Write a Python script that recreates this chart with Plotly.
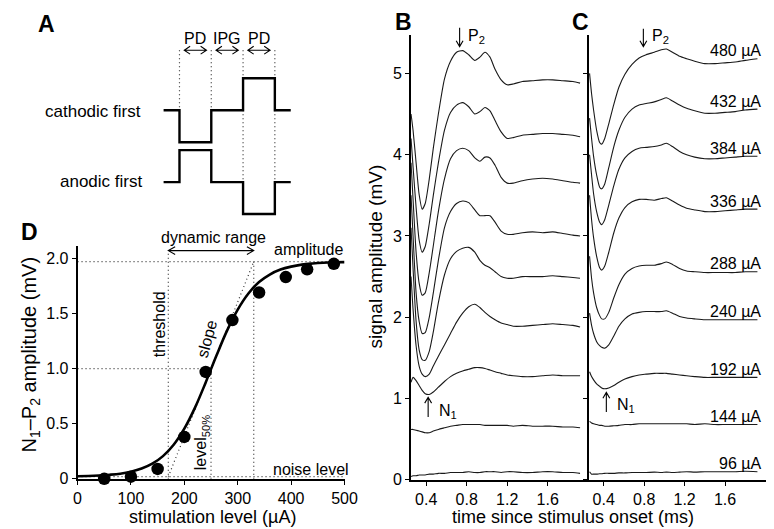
import math
import plotly.graph_objects as go

W, H = 774, 529
FONT = "Liberation Sans, Arial, Helvetica, sans-serif"

# ---------------- Panel D data ----------------
stim_level = [50, 100, 150, 200, 240, 290, 340, 390, 430, 480]
n1p2_amplitude = [0.0, 0.02, 0.09, 0.38, 0.97, 1.44, 1.69, 1.83, 1.90, 1.95]
fit_level = [0, 20, 40, 60, 80, 100, 120, 140, 160, 180, 200, 220, 240, 260,
             280, 300, 320, 340, 360, 380, 400, 420, 440, 460, 480, 500]
fit_amplitude = [0.024, 0.026, 0.030, 0.037, 0.047, 0.065, 0.093, 0.137, 0.206,
                 0.309, 0.455, 0.646, 0.874, 1.116, 1.344, 1.535, 1.681, 1.785,
                 1.853, 1.898, 1.925, 1.943, 1.953, 1.960, 1.964, 1.966]
threshold_level = 170
level_50 = 250
upper_level = 330
noise_level = 0.02
max_amplitude = 1.97
half_amplitude = 1.0
d_xticks = [0, 100, 200, 300, 400, 500]
d_yticks = [0, 0.5, 1.0, 1.5, 2.0]
d_yticklabels = ["0", "0.5", "1.0", "1.5", "2.0"]

# ---------------- Panel A data ----------------
pulse_time = [-0.5, 0, 0, 1, 1, 2, 2, 3, 3, 3.5]
cathodic_first = [0, 0, -1, -1, 0, 0, 1, 1, 0, 0]
anodic_first = [0, 0, 1, 1, 0, 0, -1, -1, 0, 0]
phase_edges = [0, 1, 2, 3]
phase_names = ["PD", "IPG", "PD"]

# ---------------- Panels B / C data ----------------
stim_labels = [96, 144, 192, 240, 288, 336, 384, 432, 480]
time_b = [0.25, 0.27, 0.30, 0.33, 0.36, 0.39, 0.43, 0.47, 0.52, 0.58, 0.64, 0.70,
          0.76, 0.82, 0.88, 0.93, 0.98, 1.03, 1.08, 1.14, 1.20, 1.26, 1.35, 1.45,
          1.55, 1.65, 1.75, 1.85, 1.92]
b_480 = [4.5, 4.3, 3.9, 3.51, 3.33, 3.4, 3.7, 4.08, 4.5, 4.93, 5.15, 5.26, 5.28, 5.23,
         5.16, 5.2, 5.26, 5.2, 5.05, 4.92, 4.86, 4.87, 4.9, 4.91, 4.92, 4.92, 4.91, 4.9, 4.88]
b_432 = [4.2, 3.85, 3.35, 2.95, 2.8, 2.87, 3.15, 3.5, 3.9, 4.3, 4.52, 4.61, 4.64, 4.59,
         4.5, 4.53, 4.58, 4.54, 4.42, 4.28, 4.2, 4.21, 4.24, 4.25, 4.26, 4.26, 4.25, 4.24, 4.22]
b_384 = [3.9, 3.45, 2.8, 2.42, 2.27, 2.3, 2.55, 2.88, 3.3, 3.7, 3.95, 4.05, 4.08, 4.05,
         3.96, 3.92, 3.97, 3.96, 3.87, 3.72, 3.65, 3.65, 3.68, 3.7, 3.71, 3.7, 3.68, 3.66, 3.65]
b_336 = [3.5, 3.0, 2.3, 1.95, 1.8, 1.81, 2.0, 2.3, 2.7, 3.1, 3.3, 3.4, 3.43, 3.41,
         3.32, 3.25, 3.25, 3.25, 3.17, 3.06, 3.02, 3.02, 3.04, 3.05, 3.04, 3.05, 3.03, 3.01, 3.0]
b_288 = [3.1, 2.6, 1.95, 1.6, 1.48, 1.47, 1.58, 1.82, 2.18, 2.52, 2.72, 2.81, 2.85, 2.86,
         2.8, 2.7, 2.64, 2.61, 2.56, 2.5, 2.48, 2.48, 2.5, 2.5, 2.5, 2.51, 2.5, 2.49, 2.48]
b_240 = [2.5, 2.1, 1.65, 1.4, 1.3, 1.27, 1.3, 1.4, 1.52, 1.66, 1.8, 1.94, 2.05, 2.13,
         2.16, 2.12, 2.06, 2.01, 1.97, 1.93, 1.91, 1.89, 1.89, 1.9, 1.91, 1.92, 1.91, 1.9, 1.88]
b_192 = [1.2, 1.26, 1.22, 1.16, 1.1, 1.06, 1.05, 1.08, 1.14, 1.21, 1.27, 1.31, 1.34, 1.36,
         1.38, 1.38, 1.37, 1.35, 1.33, 1.31, 1.29, 1.28, 1.27, 1.27, 1.28, 1.29, 1.28, 1.28, 1.28]
b_144 = [0.62, 0.62, 0.61, 0.6, 0.59, 0.58, 0.58, 0.6, 0.62, 0.64, 0.66, 0.67, 0.68, 0.68,
         0.68, 0.68, 0.67, 0.67, 0.67, 0.67, 0.67, 0.66, 0.67, 0.66, 0.66, 0.66, 0.65, 0.65, 0.64]
b_096 = [0.04, 0.05, 0.05, 0.06, 0.06, 0.06, 0.07, 0.07, 0.08, 0.08, 0.09, 0.09, 0.09, 0.1,
         0.09, 0.09, 0.1, 0.1, 0.1, 0.09, 0.1, 0.1, 0.09, 0.09, 0.1, 0.1, 0.09, 0.09, 0.08]

time_c = [0.26, 0.28, 0.30, 0.33, 0.36, 0.38, 0.41, 0.45, 0.50, 0.55, 0.61, 0.68, 0.75,
          0.82, 0.90, 0.97, 1.02, 1.08, 1.15, 1.22, 1.30, 1.40, 1.50, 1.60, 1.70, 1.80, 1.92]
c_480 = [5.0, 4.75, 4.55, 4.3, 4.15, 4.13, 4.2, 4.38, 4.62, 4.83, 4.99, 5.11, 5.19, 5.23,
         5.26, 5.29, 5.3, 5.26, 5.21, 5.18, 5.15, 5.12, 5.12, 5.13, 5.14, 5.16, 5.18]
c_432 = [4.45, 4.2, 3.98, 3.75, 3.6, 3.58, 3.64, 3.84, 4.1, 4.3, 4.46, 4.56, 4.61, 4.63,
         4.65, 4.68, 4.7, 4.66, 4.61, 4.57, 4.54, 4.51, 4.51, 4.52, 4.53, 4.55, 4.56]
c_384 = [4.0, 3.75, 3.52, 3.3, 3.17, 3.14, 3.2, 3.38, 3.62, 3.82, 3.96, 4.04, 4.08, 4.09,
         4.1, 4.12, 4.14, 4.1, 4.04, 4.0, 3.97, 3.95, 3.95, 3.96, 3.97, 3.98, 3.98]
c_336 = [3.5, 3.2, 2.98, 2.75, 2.61, 2.58, 2.63, 2.8, 3.04, 3.22, 3.35, 3.42, 3.45, 3.45,
         3.44, 3.46, 3.47, 3.43, 3.38, 3.34, 3.32, 3.3, 3.3, 3.31, 3.32, 3.33, 3.33]
c_288 = [2.75, 2.48, 2.3, 2.12, 2.02, 1.98, 1.98, 2.06, 2.24, 2.4, 2.53, 2.6, 2.63, 2.64,
         2.64, 2.66, 2.68, 2.65, 2.6, 2.57, 2.56, 2.55, 2.55, 2.55, 2.55, 2.56, 2.56]
c_240 = [2.05, 1.9, 1.8, 1.7, 1.65, 1.63, 1.62, 1.66, 1.77, 1.89, 1.98, 2.04, 2.06, 2.07,
         2.07, 2.07, 2.08, 2.05, 2.01, 1.99, 1.98, 1.97, 1.97, 1.97, 1.97, 1.97, 1.97]
c_192 = [1.33, 1.27, 1.23, 1.18, 1.15, 1.13, 1.12, 1.13, 1.16, 1.2, 1.24, 1.27, 1.29, 1.3,
         1.31, 1.31, 1.31, 1.3, 1.29, 1.28, 1.27, 1.26, 1.26, 1.26, 1.26, 1.26, 1.26]
c_144 = [0.72, 0.7, 0.69, 0.68, 0.67, 0.67, 0.66, 0.66, 0.665, 0.67, 0.68, 0.68, 0.69, 0.69,
         0.69, 0.69, 0.69, 0.69, 0.69, 0.69, 0.68, 0.69, 0.68, 0.68, 0.68, 0.68, 0.68]
c_096 = [0.1, 0.07, 0.07, 0.07, 0.075, 0.075, 0.08, 0.08, 0.08, 0.085, 0.085, 0.09, 0.09, 0.09,
         0.095, 0.09, 0.095, 0.09, 0.095, 0.1, 0.095, 0.1, 0.1, 0.1, 0.1, 0.105, 0.1]

bc_xticks = [0.4, 0.8, 1.2, 1.6]
bc_xticklabels = ["0.4", "0.8", "1.2", "1.6"]
bc_yticks = [0, 1, 2, 3, 4, 5]

b_traces = [b_096, b_144, b_192, b_240, b_288, b_336, b_384, b_432, b_480]
c_traces = [c_096, c_144, c_192, c_240, c_288, c_336, c_384, c_432, c_480]

# ---------------- layout geometry (pixels) ----------------
PANELS = {
    "D": dict(xd=(67, 340), xr=(0, 500), yd=(479, 242), yr=(0, 2.113)),
    "B": dict(xd=(408, 589), xr=(0.25, 1.999), yd=(480, 27), yr=(0, 5.478)),
    "C": dict(xd=(590, 772), xr=(0.255, 2.015), yd=(480, 27), yr=(0, 5.478)),
    "A": dict(xd=(140, 300), xr=(-0.9615, 3.9615), yd=(215, 25), yr=(-3.415, 2.431)),
}


def xdom(p):
    a, b = PANELS[p]["xd"]
    return [a / W, b / W]


def ydom(p):
    a, b = PANELS[p]["yd"]
    return [1 - a / H, 1 - b / H]


def to_px(p, x, y):
    P = PANELS[p]
    X = P["xd"][0] + (x - P["xr"][0]) / (P["xr"][1] - P["xr"][0]) * (P["xd"][1] - P["xd"][0])
    Y = P["yd"][0] + (y - P["yr"][0]) / (P["yr"][1] - P["yr"][0]) * (P["yd"][1] - P["yd"][0])
    return X, Y


def pp(X, Y):
    return f"{X / W:.5f},{1 - Y / H:.5f}"


def arrow_path(p, x0, y0, x1, y1, both=False, hl=6.0, hw=3.5):
    X0, Y0 = to_px(p, x0, y0)
    X1, Y1 = to_px(p, x1, y1)
    dx, dy = X1 - X0, Y1 - Y0
    L = math.hypot(dx, dy)
    ux, uy = dx / L, dy / L
    nx, ny = -uy, ux
    s = f"M{pp(X0, Y0)} L{pp(X1, Y1)} "
    s += f"M{pp(X1 - ux * hl + nx * hw, Y1 - uy * hl + ny * hw)} L{pp(X1, Y1)} L{pp(X1 - ux * hl - nx * hw, Y1 - uy * hl - ny * hw)} "
    if both:
        s += f"M{pp(X0 + ux * hl + nx * hw, Y0 + uy * hl + ny * hw)} L{pp(X0, Y0)} L{pp(X0 + ux * hl - nx * hw, Y0 + uy * hl - ny * hw)}"
    return s


fig = go.Figure()

# Panel D
fig.add_trace(go.Scatter(x=fit_level, y=fit_amplitude, mode="lines", line=dict(color="black", width=2.6, shape="spline"),
                         xaxis="x", yaxis="y", hoverinfo="skip", cliponaxis=False))
fig.add_trace(go.Scatter(x=stim_level, y=n1p2_amplitude, mode="markers",
                         marker=dict(color="black", size=12.5, line=dict(width=0)),
                         xaxis="x", yaxis="y", cliponaxis=False))

# Panel B / C traces
for vals in b_traces:
    fig.add_trace(go.Scatter(x=time_b, y=vals, mode="lines", line=dict(color="#1a1a1a", width=1.1, shape="spline", smoothing=0.6),
                             xaxis="x2", yaxis="y2", hoverinfo="skip"))
for vals in c_traces:
    fig.add_trace(go.Scatter(x=time_c, y=vals, mode="lines", line=dict(color="#1a1a1a", width=1.1, shape="spline", smoothing=0.6),
                             xaxis="x3", yaxis="y3", hoverinfo="skip"))

# Panel A waveforms
fig.add_trace(go.Scatter(x=pulse_time, y=cathodic_first, mode="lines", line=dict(color="black", width=2.4),
                         xaxis="x4", yaxis="y4", hoverinfo="skip"))
fig.add_trace(go.Scatter(x=pulse_time, y=[v - 2.25 for v in anodic_first], mode="lines", line=dict(color="black", width=2.4),
                         xaxis="x4", yaxis="y4", hoverinfo="skip"))


def axis(**kw):
    d = dict(showline=True, linecolor="black", linewidth=1.6, ticks="outside", ticklen=4, tickwidth=1.3,
             tickcolor="black", showgrid=False, zeroline=False, fixedrange=True,
             tickfont=dict(family=FONT, size=16, color="black"))
    d.update(kw)
    return d


DOT = "1px,3px"
shapes = []
# dotted guides in D
for (x0, y0, x1, y1) in [
    (0, max_amplitude, 500, max_amplitude),
    (0, half_amplitude, level_50, half_amplitude),
    (0, noise_level, 500, noise_level),
    (threshold_level, 0, threshold_level, 2.07),
    (level_50, 0, level_50, half_amplitude),
    (upper_level, 0, upper_level, max_amplitude),
    (threshold_level, noise_level, upper_level, max_amplitude),
]:
    shapes.append(dict(type="line", xref="x", yref="y", x0=x0, y0=y0, x1=x1, y1=y1,
                       line=dict(color="#333", width=1.2, dash=DOT), layer="below"))
# dynamic range arrow
shapes.append(dict(type="path", xref="paper", yref="paper",
                   path=arrow_path("D", threshold_level, 2.07, upper_level, 2.07, both=True, hl=7, hw=4),
                   line=dict(color="black", width=1.1)))

# dotted guides in A
for e in phase_edges:
    low = 0 if e < 2 else -2.25
    shapes.append(dict(type="line", xref="x4", yref="y4", x0=e, y0=1.88, x1=e, y1=low,
                       line=dict(color="#333", width=1.2, dash=DOT), layer="below"))
for i in range(3):
    shapes.append(dict(type="path", xref="paper", yref="paper",
                       path=arrow_path("A", phase_edges[i] + 0.15, 1.88, phase_edges[i + 1] - 0.15, 1.88, both=True, hl=6, hw=4),
                       line=dict(color="black", width=1.1)))

# P2 / N1 arrows
shapes.append(dict(type="path", xref="paper", yref="paper", path=arrow_path("B", 0.73, 5.56, 0.73, 5.33),
                   line=dict(color="black", width=1.1)))
shapes.append(dict(type="path", xref="paper", yref="paper", path=arrow_path("C", 0.792, 5.55, 0.792, 5.33),
                   line=dict(color="black", width=1.1)))
shapes.append(dict(type="path", xref="paper", yref="paper", path=arrow_path("B", 0.419, 0.774, 0.419, 1.016),
                   line=dict(color="black", width=1.1)))
shapes.append(dict(type="path", xref="paper", yref="paper", path=arrow_path("C", 0.426, 0.834, 0.426, 1.076),
                   line=dict(color="black", width=1.1)))

ann = []


def text(X, Y, s, size=16, xanchor="center", angle=0, bold=False):
    ann.append(dict(x=X / W, y=1 - Y / H, xref="paper", yref="paper", text=(f"<b>{s}</b>" if bold else s),
                    showarrow=False, xanchor=xanchor, yanchor="middle", textangle=angle,
                    font=dict(family=FONT, size=size, color="black")))


# panel letters
text(35, 16, "A", 23, bold=True)
text(400, 14, "B", 23, bold=True)
text(581, 14, "C", 23, bold=True)
text(18, 228, "D", 23, bold=True)

# panel A text
text(134, 105, "cathodic first", 17, xanchor="right")
text(135, 177, "anodic first", 17, xanchor="right")
for i, name in enumerate(phase_names):
    X, _ = to_px("A", phase_edges[i] + 0.5, 0)
    text(X, 31.5, name, 16)

# panel D text
text(206, 233, "dynamic range", 16)
text(303, 246, "amplitude", 16)
text(151, 322, "threshold", 16, angle=-90)
text(199, 337, "slope", 16, angle=-75)
text(194, 442, "level<sub>50%</sub>", 16, angle=-90)
text(306, 469, "noise level", 16)
text(19, 353, "N<sub>1</sub>–P<sub>2</sub> amplitude (mV)", 20, angle=-90)
text(205, 518, "stimulation level (µA)", 18)

# panel B/C titles
text(372, 253, "signal amplitude (mV)", 19, angle=-90)
text(574, 518, "time since stimulus onset (ms)", 18)

# peak labels
text(*to_px("B", 0.79, 5.45), "P<sub>2</sub>", 16, xanchor="left")
text(*to_px("C", 0.855, 5.46), "P<sub>2</sub>", 16, xanchor="left")
text(*to_px("B", 0.51, 0.84), "N<sub>1</sub>", 16, xanchor="left")
text(*to_px("C", 0.51, 0.91), "N<sub>1</sub>", 16, xanchor="left")

# stimulation labels in C
for lab, vals in zip(stim_labels, c_traces):
    X, Y = to_px("C", 1.9, vals[-1] + 0.1)
    text(768, Y, f"{lab} µA", 16, xanchor="right")

fig.update_layout(
    width=W, height=H, autosize=False, margin=dict(l=0, r=0, t=0, b=0),
    paper_bgcolor="white", plot_bgcolor="rgba(0,0,0,0)", showlegend=False,
    font=dict(family=FONT, color="black"),
    xaxis=axis(domain=xdom("D"), range=list(PANELS["D"]["xr"]), tickvals=d_xticks, anchor="y"),
    yaxis=axis(domain=ydom("D"), range=list(PANELS["D"]["yr"]), tickvals=d_yticks, ticktext=d_yticklabels, anchor="x"),
    xaxis2=axis(domain=xdom("B"), range=list(PANELS["B"]["xr"]), tickvals=bc_xticks, ticktext=bc_xticklabels, anchor="y2"),
    yaxis2=axis(domain=ydom("B"), range=list(PANELS["B"]["yr"]), tickvals=bc_yticks, anchor="x2", linewidth=2),
    xaxis3=axis(domain=xdom("C"), range=list(PANELS["C"]["xr"]), tickvals=bc_xticks, ticktext=bc_xticklabels, anchor="y3"),
    yaxis3=axis(domain=ydom("C"), range=list(PANELS["C"]["yr"]), tickvals=bc_yticks, anchor="x3",
                showticklabels=False, linewidth=2),
    xaxis4=dict(domain=xdom("A"), range=list(PANELS["A"]["xr"]), visible=False, fixedrange=True, anchor="y4"),
    yaxis4=dict(domain=ydom("A"), range=list(PANELS["A"]["yr"]), visible=False, fixedrange=True, anchor="x4"),
    shapes=shapes,
    annotations=ann,
)

fig.write_html("out.html")
